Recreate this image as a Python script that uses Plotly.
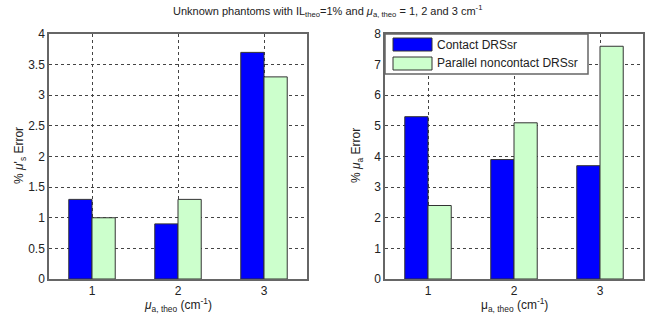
import plotly.graph_objects as go

categories = [1, 2, 3]
tick_labels = ["1", "2", "3"]
contact_mus = [1.3, 0.9, 3.7]
parallel_mus = [1.0, 1.3, 3.3]
contact_mua = [5.3, 3.9, 3.7]
parallel_mua = [2.4, 5.1, 7.6]
series_names = ["Contact DRSsr", "Parallel noncontact DRSsr"]
colors = ["#0000FF", "#CCFFCC"]

W, H = 648, 320
def px(x): return x / W
def py(y): return 1 - y / H

FONT = "Liberation Sans, Arial, sans-serif"
fig = go.Figure()
for vals, xa, ya in [((contact_mus, parallel_mus), "x", "y"), ((contact_mua, parallel_mua), "x2", "y2")]:
    for i, v in enumerate(vals):
        fig.add_trace(go.Bar(x=categories, y=v, name=series_names[i], marker=dict(color=colors[i], line=dict(color="#333333", width=1)),
                             xaxis=xa, yaxis=ya, showlegend=False))

axis_common = dict(showline=True, linecolor="#666666", linewidth=1.5, mirror=True, showgrid=True, gridcolor="#444444",
                   griddash="dot", gridwidth=1, zeroline=False, ticks="", automargin=False,
                   tickfont=dict(family=FONT, size=12, color="#222222"))
fig.update_layout(
    template="none",
    width=W, height=H, margin=dict(l=0, r=0, t=0, b=0, pad=0), paper_bgcolor="white", plot_bgcolor="white",
    bargap=0.46, bargroupgap=0, barmode="group",
    xaxis=dict(domain=[px(49), px(307)], range=[0.5, 3.5], tickvals=categories, ticktext=tick_labels, anchor="y", **axis_common),
    yaxis=dict(domain=[py(279), py(34)], range=[0, 4], dtick=0.5, anchor="x", **axis_common),
    xaxis2=dict(domain=[px(385), px(643)], range=[0.5, 3.5], tickvals=categories, ticktext=tick_labels, anchor="y2", **axis_common),
    yaxis2=dict(domain=[py(279), py(34)], range=[0, 8], dtick=1, anchor="x2", **axis_common),
    font=dict(family=FONT, color="#222222"),
)

def A(x, y, text, size=12, **kw):
    d = dict(x=px(x), y=py(y), text=text, font=dict(size=size), showarrow=False, xref="paper", yref="paper",
             xanchor="center", yanchor="middle")
    d.update(kw)
    return d

ann = [
    A(327, 11, "Unknown phantoms with IL<sub>theo</sub>=1% and <i>μ</i><sub>a, theo</sub> = 1, 2 and 3 cm<sup>-1</sup>", size=11),
    A(178, 305, "<i>μ</i><sub>a, theo</sub> (cm<sup>-1</sup>)"),
    A(514, 305, "μ<sub>a, theo</sub> (cm<sup>-1</sup>)"),
    A(20, 156, "% <i>μ</i>'<sub>s</sub> Error", textangle=-90),
    A(357, 156, "% <i>μ</i><sub>a</sub> Error", textangle=-90),
    A(435, 45, series_names[0], xanchor="left"),
    A(435, 63, series_names[1], xanchor="left"),
]
fig.update_layout(annotations=ann)

shapes = [
    dict(type="rect", xref="paper", yref="paper", x0=px(385), x1=px(588), y0=py(74), y1=py(34), fillcolor="white", line=dict(color="#666666", width=1.5)),
    dict(type="rect", xref="paper", yref="paper", x0=px(393), x1=px(432), y0=py(51), y1=py(38), fillcolor=colors[0], line=dict(color="#333333", width=1)),
    dict(type="rect", xref="paper", yref="paper", x0=px(393), x1=px(432), y0=py(70), y1=py(57), fillcolor=colors[1], line=dict(color="#333333", width=1)),
]
fig.update_layout(shapes=shapes)
fig.write_html("out.html")
